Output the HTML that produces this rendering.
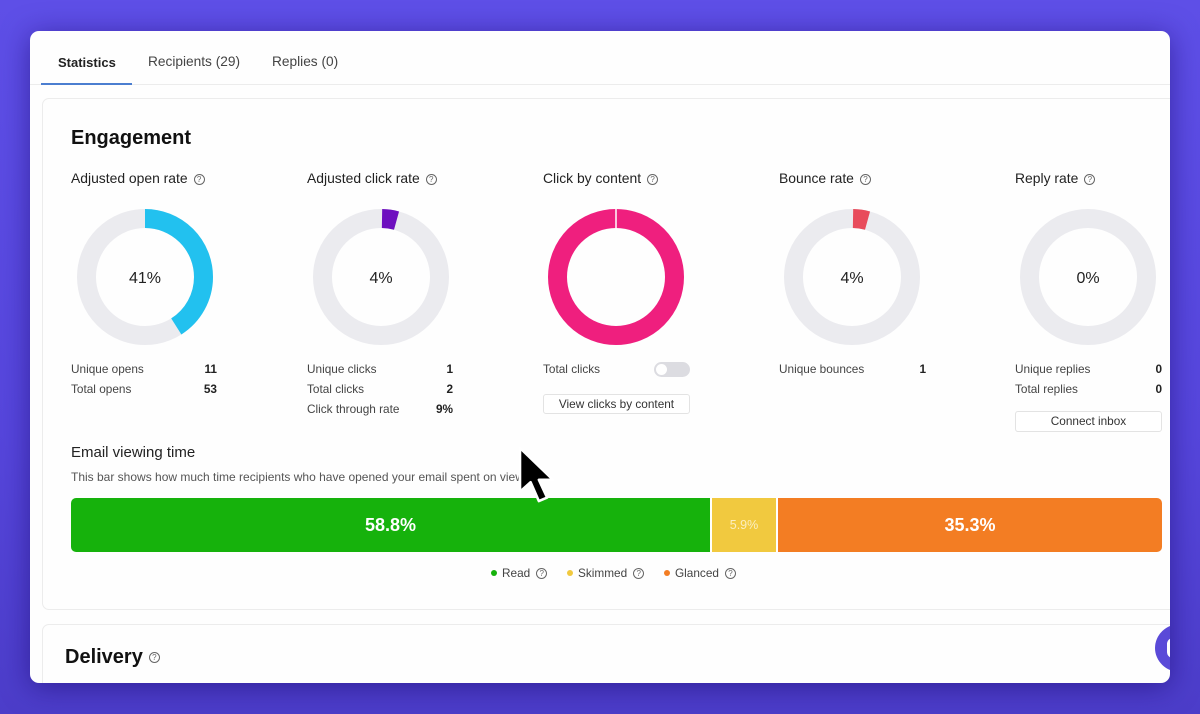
<!DOCTYPE html>
<html><head><meta charset="utf-8">
<style>
*{margin:0;padding:0;box-sizing:border-box}
html,body{width:1200px;height:714px;overflow:hidden}
body{background:linear-gradient(180deg,#5e4fe7 0%,#5646dc 60%,#4c3dc9 100%);font-family:"Liberation Sans",sans-serif;position:relative;color:#222}
.win{position:absolute;left:30px;top:31px;width:1140px;height:652px;background:#fefefe;border-radius:9px;overflow:hidden;box-shadow:0 4px 28px rgba(25,10,110,.55)}
.a{position:absolute;white-space:nowrap}
.tab{font-size:13.7px;color:#444;top:23px}
.q{display:inline-block;width:11px;height:11px;border:1px solid #666;border-radius:50%;font-size:8px;line-height:9px;text-align:center;color:#666;vertical-align:1px;margin-left:6px;font-weight:normal}
.ct{font-size:13.9px;color:#222;top:139px}
.lab{font-size:11.8px;color:#444}
.val{font-size:11.8px;color:#222;font-weight:bold;text-align:right;width:40px}
.btn{border:1px solid #e3e3e3;border-radius:3px;font-size:11.8px;color:#333;text-align:center;background:#fff}
.dot{display:inline-block;width:6px;height:6px;border-radius:50%;margin-right:5px;vertical-align:1px}
</style></head><body>
<div class="win">
  <div class="a tab" style="left:28px;color:#222;font-weight:bold;font-size:13px;top:24px">Statistics</div>
  <div class="a tab" style="left:118px">Recipients (29)</div>
  <div class="a tab" style="left:242px">Replies (0)</div>
  <div class="a" style="left:0;top:53px;width:1140px;height:1px;background:#ececec"></div>
  <div class="a" style="left:11px;top:52px;width:91px;height:2px;background:#4b7ed0"></div>

  <div class="a" style="left:12px;top:67px;width:1200px;height:512px;border:1px solid #ececec;border-radius:7px"></div>
  <div class="a" style="left:12px;top:593px;width:1200px;height:100px;border:1px solid #ececec;border-radius:7px"></div>

  <div class="a" style="left:41px;top:96px;font-size:20px;font-weight:bold;color:#111">Engagement</div>

  <div class="a ct" style="left:41px">Adjusted open rate<span class="q">?</span></div>
  <div class="a ct" style="left:277px">Adjusted click rate<span class="q">?</span></div>
  <div class="a ct" style="left:513px">Click by content<span class="q">?</span></div>
  <div class="a ct" style="left:749px">Bounce rate<span class="q">?</span></div>
  <div class="a ct" style="left:985px">Reply rate<span class="q">?</span></div>

  <svg class="a" style="left:0;top:0" width="1140" height="652">
    <g fill="none" stroke-width="19">
      <circle cx="115" cy="246" r="58.5" stroke="#ebebef"/>
      <circle cx="115" cy="246" r="58.5" stroke="#22c1ef" stroke-dasharray="150.7 400" transform="rotate(-90 115 246)"/>
      <circle cx="351" cy="246" r="58.5" stroke="#ebebef"/>
      <circle cx="351" cy="246" r="58.5" stroke="#6e0fbf" stroke-dasharray="14.7 400" transform="rotate(-89 351 246)"/>
      <circle cx="586" cy="246" r="58.5" stroke="#ef1f7e"/>
      <circle cx="822" cy="246" r="58.5" stroke="#ebebef"/>
      <circle cx="822" cy="246" r="58.5" stroke="#e84b5b" stroke-dasharray="14.7 400" transform="rotate(-89 822 246)"/>
      <circle cx="1058" cy="246" r="58.5" stroke="#ebebef"/>
    </g>
    <line x1="586" y1="178" x2="586" y2="198" stroke="#fff" stroke-width="1.5"/>
    <g font-family="Liberation Sans, sans-serif" font-size="16" fill="#222" text-anchor="middle">
      <text x="115" y="252">41%</text>
      <text x="351" y="252">4%</text>
      <text x="822" y="252">4%</text>
      <text x="1058" y="252">0%</text>
    </g>
  </svg>

  <div class="a lab" style="left:41px;top:331px">Unique opens</div><div class="a val" style="left:147px;top:331px">11</div>
  <div class="a lab" style="left:41px;top:351px">Total opens</div><div class="a val" style="left:147px;top:351px">53</div>

  <div class="a lab" style="left:277px;top:331px">Unique clicks</div><div class="a val" style="left:383px;top:331px">1</div>
  <div class="a lab" style="left:277px;top:351px">Total clicks</div><div class="a val" style="left:383px;top:351px">2</div>
  <div class="a lab" style="left:277px;top:371px">Click through rate</div><div class="a val" style="left:383px;top:371px">9%</div>

  <div class="a lab" style="left:513px;top:331px">Total clicks</div>
  <div class="a" style="left:624px;top:331px;width:36px;height:15px;border-radius:8px;background:#dcdce1"></div>
  <div class="a" style="left:626px;top:333px;width:11px;height:11px;border-radius:50%;background:#fff"></div>
  <div class="a btn" style="left:513px;top:363px;width:147px;height:20px;line-height:18px">View clicks by content</div>

  <div class="a lab" style="left:749px;top:331px">Unique bounces</div><div class="a val" style="left:856px;top:331px">1</div>

  <div class="a lab" style="left:985px;top:331px">Unique replies</div><div class="a val" style="left:1092px;top:331px">0</div>
  <div class="a lab" style="left:985px;top:351px">Total replies</div><div class="a val" style="left:1092px;top:351px">0</div>
  <div class="a btn" style="left:985px;top:380px;width:147px;height:21px;line-height:19px">Connect inbox</div>

  <div class="a" style="left:41px;top:413px;font-size:15px;color:#222">Email viewing time</div>
  <div class="a" style="left:41px;top:439px;font-size:12px;color:#555">This bar shows how much time recipients who have opened your email spent on viewing it.</div>

  <div class="a" style="left:41px;top:467px;width:1091px;height:54px;border-radius:5px;overflow:hidden;background:#fff">
    <div class="a" style="left:0;top:0;width:639px;height:54px;background:#16b20c;color:#fff;font-size:18px;font-weight:bold;text-align:center;line-height:54px">58.8%</div>
    <div class="a" style="left:641px;top:0;width:64px;height:54px;background:#f1c93f;color:#fbeec0;font-size:12.5px;text-align:center;line-height:54px">5.9%</div>
    <div class="a" style="left:707px;top:0;width:384px;height:54px;background:#f37d23;color:#fff;font-size:18px;font-weight:bold;text-align:center;line-height:54px">35.3%</div>
  </div>

  <div class="a lab" style="left:461px;top:535px"><span class="dot" style="background:#16b20c"></span>Read<span class="q">?</span></div>
  <div class="a lab" style="left:537px;top:535px"><span class="dot" style="background:#f1c93f"></span>Skimmed<span class="q">?</span></div>
  <div class="a lab" style="left:634px;top:535px"><span class="dot" style="background:#f37d23"></span>Glanced<span class="q">?</span></div>

  <div class="a" style="left:35px;top:615px;font-size:20px;font-weight:bold;color:#111">Delivery<span class="q" style="vertical-align:3px;margin-left:6px">?</span></div>

  <div class="a" style="left:1125px;top:593px;width:50px;height:48px;border-radius:50%;background:#5a4ad8"></div>
  <div class="a" style="left:1137px;top:607px;width:12px;height:20px;border:3px solid #fff;border-radius:6px"></div>

  <svg class="a" style="left:486px;top:414px" width="48" height="60">
    <g transform="translate(4,3) scale(1.18)">
      <polygon points="0,0 0,37 9,29 16,45 23,42 16,27 28,27" fill="#000" stroke="#fff" stroke-width="2.2" stroke-linejoin="round"/>
    </g>
  </svg>
</div>
</body></html>
